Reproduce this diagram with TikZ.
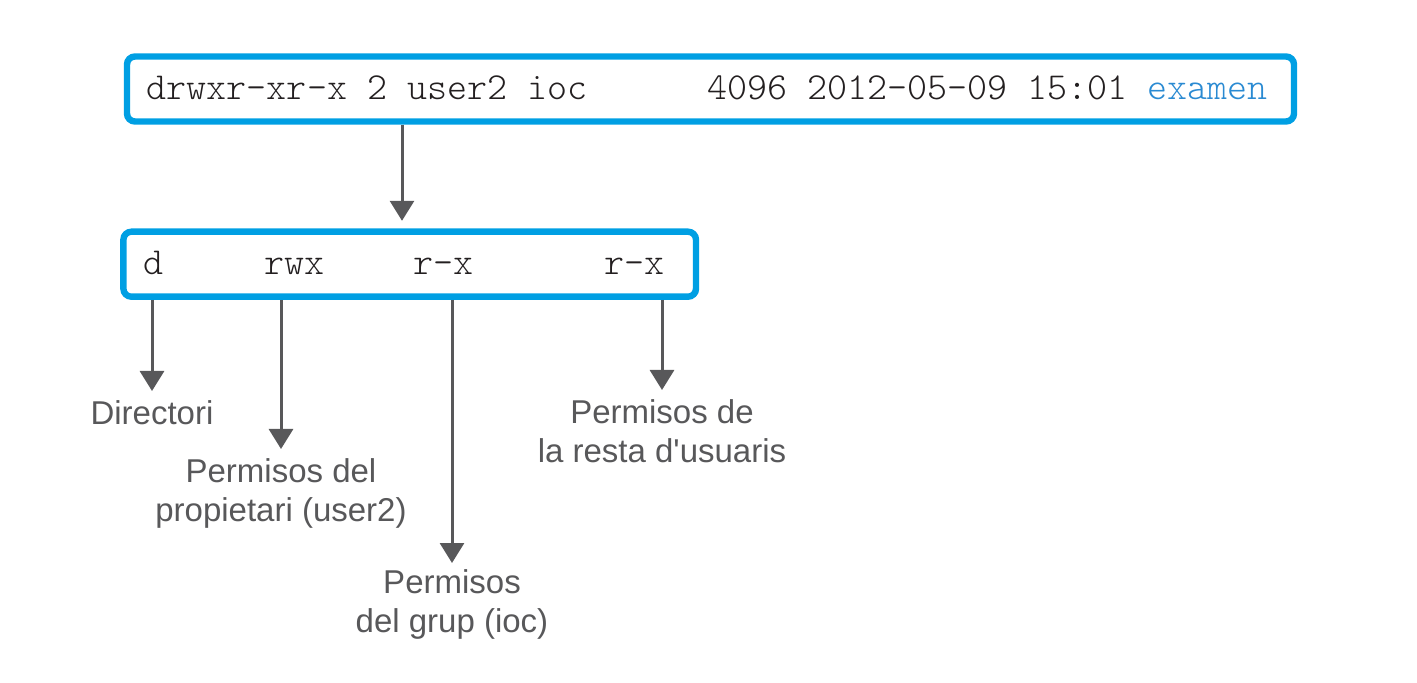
\documentclass[tikz,border=0pt]{standalone}
\usepackage{fontspec}
\setmainfont{Liberation Sans}[Ligatures=TeXOff]
\newfontfamily\lmlight{Latin Modern Mono Light}[Ligatures=TeXOff]
\usetikzlibrary{arrows.meta}
\definecolor{boxblue}{HTML}{009FE3}
\definecolor{fileblue}{HTML}{2A8AD2}
\definecolor{arrgray}{HTML}{58585A}
\definecolor{monotext}{HTML}{231F20}
\begin{document}
\begin{tikzpicture}[x=0.5pt,y=-0.5pt,
  frame/.style={draw=boxblue, line width=3.2pt, rounded corners=4pt, inner sep=0pt},
  mono/.style={font=\lmlight\fontsize{19.06}{22}\selectfont, text=monotext, inner sep=0pt, anchor=base west},
  lbl/.style={font=\fontsize{16.5}{19.75}\selectfont, text=arrgray, align=center, inner sep=0pt, anchor=north},
  arr/.style={draw=arrgray, line width=1.5pt, -{Triangle[width=12pt,length=10pt]}}]
\useasboundingbox (0,0) rectangle (1417,683);

% boxes
\node[frame, minimum width=583.5pt, minimum height=32.5pt] (top) at (710.5,89) {};
\node[frame, minimum width=286.3pt, minimum height=32.5pt] (bot) at (409.7,264.2) {};

% box texts
\node[mono] (line) at (146.5,100) {drwxr-xr-x 2 user2 ioc\ \ \ \ \ \ 4096 2012-05-09 15:01 \textcolor{fileblue}{examen}};
\node[mono] (pd) at (143,275) {d};
\node[mono] (po) at (264,275) {rwx};
\node[mono] (pg) at (413,275) {r-x};
\node[mono] (pr) at (604,275) {r-x};

% labels
\node[lbl] (ldir) at (152,400) {Directori};
\node[lbl] (lown) at (281,458) {Permisos del\\propietari (user2)};
\node[lbl] (lgrp) at (452,569) {Permisos\\del grup (ioc)};
\node[lbl] (loth) at (662,399) {Permisos de\\la resta d'usuaris};

% connectors
\coordinate (topout) at (402,0);
\draw[arr, shorten >=3.85pt] (top.south -| topout) -- (bot.north -| topout);
\draw[arr, shorten >=4.5pt] (bot.south -| ldir.north) -- (ldir.north);
\draw[arr, shorten >=4.5pt] (bot.south -| lown.north) -- (lown.north);
\draw[arr, shorten >=3pt] (bot.south -| lgrp.north) -- (lgrp.north);
\draw[arr, shorten >=4.5pt] (bot.south -| loth.north) -- (loth.north);
\end{tikzpicture}
\end{document}
